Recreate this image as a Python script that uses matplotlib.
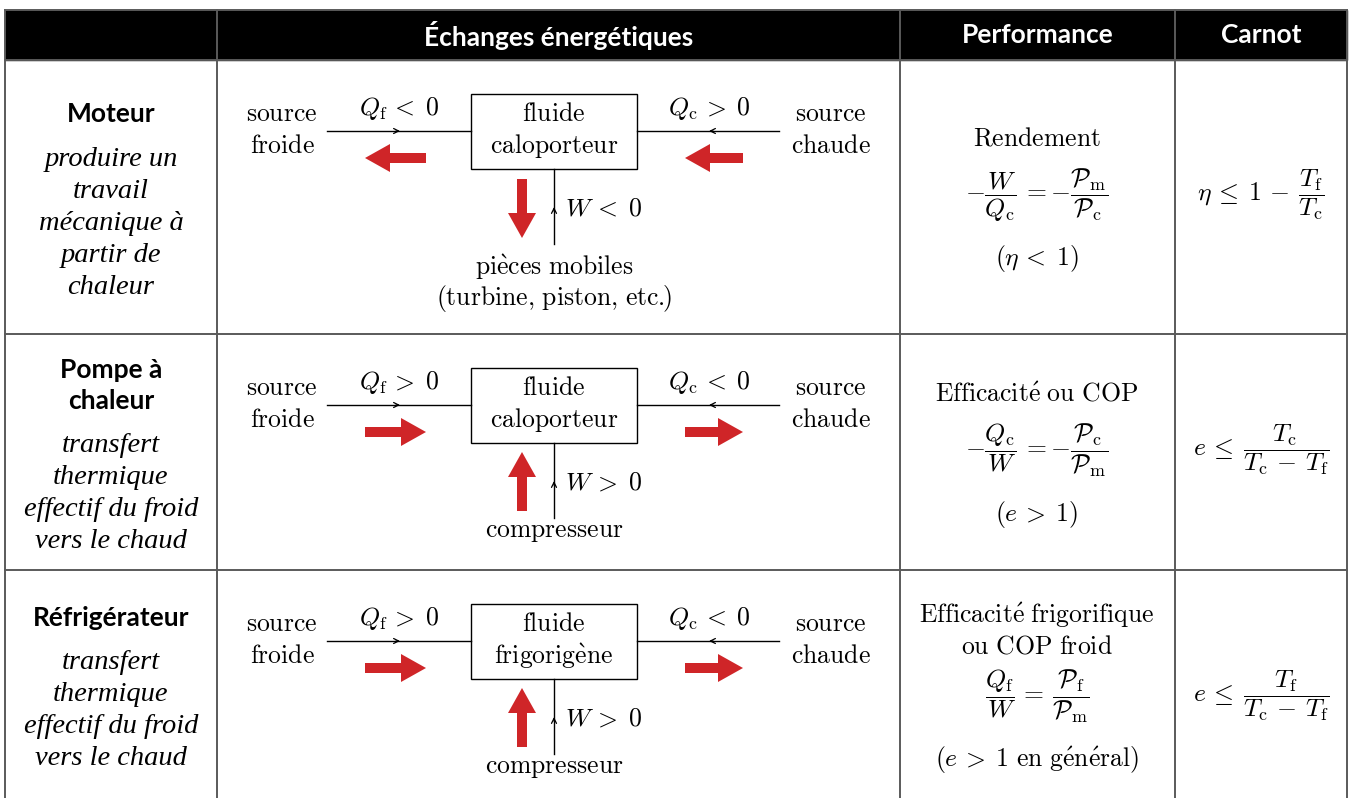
import matplotlib
matplotlib.use("Agg")
import matplotlib.pyplot as plt
from matplotlib.patches import Rectangle, FancyArrow

plt.rcParams['mathtext.fontset'] = 'cm'

# --- contenu du tableau ---
headers = ['', 'Échanges énergétiques', 'Performance', 'Carnot']
row_titles = [['Moteur'], ['Pompe à', 'chaleur'], ['Réfrigérateur']]
row_descs = [['produire un', 'travail', 'mécanique à', 'partir de', 'chaleur'],
             ['transfert', 'thermique', 'effectif du froid', 'vers le chaud'],
             ['transfert', 'thermique', 'effectif du froid', 'vers le chaud']]
fluid_names = [['fluide', 'caloporteur'], ['fluide', 'caloporteur'], ['fluide', 'frigorigène']]
work_parts = [['pièces mobiles', r'(turbine{,} piston{,} etc{.}\!\!)'], ['compresseur'], ['compresseur']]
qf_sign = [-1, 1, 1]
qc_sign = [1, -1, -1]
w_sign = [-1, 1, 1]
perf_names = [['Rendement'], ['Efficacité ou COP'], ['Efficacité frigorifique', 'ou COP froid']]
perf_formulas = [r'$-\dfrac{W}{Q_\mathrm{c}}\,=-\dfrac{\mathcal{P}_\mathrm{m}}{\mathcal{P}_\mathrm{c}}$',
                 r'$-\dfrac{Q_\mathrm{c}}{W}\,=-\dfrac{\mathcal{P}_\mathrm{c}}{\mathcal{P}_\mathrm{m}}$',
                 r'$\dfrac{Q_\mathrm{f}}{W}\,=\,\dfrac{\mathcal{P}_\mathrm{f}}{\mathcal{P}_\mathrm{m}}$']
perf_notes = [r'$(\eta\,<\;1)$', r'$(e\,>\;1)$', r'$(e\,>\;1\ \mathrm{en\ g\acute{e}n\acute{e}ral})$']
carnot = [r'$\eta\,\leq\;1\,-\,\dfrac{T_\mathrm{f}}{T_\mathrm{c}}$',
          r'$e\,\leq\;\dfrac{T_\mathrm{c}}{T_\mathrm{c}\,-\,T_\mathrm{f}}$',
          r'$e\,\leq\;\dfrac{T_\mathrm{f}}{T_\mathrm{c}\,-\,T_\mathrm{f}}$']

RED = '#cf2528'
GRID = '#5a5a5a'
FS = 18.5


def tex(s):
    s = (s.replace(' ', r'\ ').replace('é', r'\acute{e}')
         .replace('è', r'\grave{e}').replace('à', r'\grave{a}'))
    return r'$\mathrm{%s}$' % s


def rel(v):
    return r'\,' + ('>' if v > 0 else '<') + r'\;'


fig = plt.figure(figsize=(13.5, 7.98), dpi=100)
ax = fig.add_axes([0, 0, 1, 1])
ax.set_xlim(0, 1350)
ax.set_ylim(798, 0)
ax.axis('off')

col_x = [5, 217, 900, 1175, 1347]
row_y = [60, 334, 570, 798]

# en-tete noir
ax.add_patch(Rectangle((col_x[0], 10), col_x[-1] - col_x[0], 50, color='black', zorder=1))
for i, h in enumerate(headers):
    ax.text((col_x[i] + col_x[i + 1]) / 2, 35, h, color='white', family='Lato',
            weight='bold', fontsize=19, ha='center', va='center', zorder=3)

# grille
for x in col_x:
    ax.plot([x, x], [10, 798], color=GRID, lw=1.4, zorder=2)
for y in [10, 60] + row_y[1:3]:
    ax.plot([col_x[0], col_x[-1]], [y, y], color=GRID, lw=1.4, zorder=2)


def small_arrow(x, y, dx, dy):
    ax.annotate('', xy=(x + dx, y + dy), xytext=(x - dx, y - dy),
                arrowprops=dict(arrowstyle='->', lw=0.9, color='black',
                                mutation_scale=9, shrinkA=0, shrinkB=0))


def red_arrow(x0, y0, x1, y1):
    ax.add_patch(FancyArrow(x0, y0, x1 - x0, y1 - y0, width=10, head_width=28,
                            head_length=25, length_includes_head=True,
                            color=RED, lw=0, zorder=4))


for r in range(3):
    top, bot = row_y[r], row_y[r + 1]
    mid = (top + bot) / 2

    # colonne de gauche
    nt, nd = len(row_titles[r]), len(row_descs[r])
    gap = 45
    span = 31 * (nt - 1) + gap + 32 * (nd - 1)
    y0 = mid - span / 2 + 4
    for i, t in enumerate(row_titles[r]):
        ax.text(111, y0 + 31 * i, t, family='Lato', weight='bold', fontsize=19,
                ha='center', va='center')
    yd = y0 + 31 * (nt - 1) + gap
    for j, d in enumerate(row_descs[r]):
        ax.text(111, yd + 32 * j, d, family='Liberation Serif', style='italic',
                fontsize=20.5, ha='center', va='center')

    # schema
    b = top + 34
    ax.add_patch(Rectangle((471, b), 166, 75, fill=False, ec='black', lw=1.0, zorder=3))
    for k, t in enumerate(fluid_names[r]):
        ax.text(554, b + 20 + 32 * k, tex(t), fontsize=FS, ha='center', va='center')
    ax.text(282, b + 20, tex('source'), fontsize=FS, ha='center', va='center')
    ax.text(282, b + 52, tex('froide'), fontsize=FS, ha='center', va='center')
    ax.text(831, b + 20, tex('source'), fontsize=FS, ha='center', va='center')
    ax.text(831, b + 52, tex('chaude'), fontsize=FS, ha='center', va='center')

    yl = b + 37
    ax.plot([327, 471], [yl, yl], color='black', lw=1.0)
    ax.plot([637, 779], [yl, yl], color='black', lw=1.0)
    small_arrow(398, yl, 2, 0)
    small_arrow(711, yl, -2, 0)
    ax.text(399, b + 15, r'$Q_\mathrm{f}%s0$' % rel(qf_sign[r]), fontsize=FS,
            ha='center', va='center')
    ax.text(709, b + 15, r'$Q_\mathrm{c}%s0$' % rel(qc_sign[r]), fontsize=FS,
            ha='center', va='center')

    ya = b + 64
    if qf_sign[r] > 0:
        red_arrow(365, ya, 426, ya)
    else:
        red_arrow(426, ya, 365, ya)
    if qc_sign[r] > 0:
        red_arrow(743, ya, 685, ya)
    else:
        red_arrow(685, ya, 743, ya)

    ax.plot([554, 554], [b + 75, b + 150], color='black', lw=1.0)
    small_arrow(554, b + 115, 0, -2)
    ax.text(565, b + 115, r'$W%s0$' % rel(w_sign[r]), fontsize=FS,
            ha='left', va='center')
    if w_sign[r] > 0:
        red_arrow(522, b + 143, 522, b + 84)
    else:
        red_arrow(522, b + 85, 522, b + 144)
    yw = b + 173 if len(work_parts[r]) > 1 else b + 163
    for k, t in enumerate(work_parts[r]):
        ax.text(554, yw + 32 * k, tex(t), fontsize=FS, ha='center', va='center')

    # performance
    nn = len(perf_names[r])
    yf = mid + 14 * (nn - 1) - 2
    for k, t in enumerate(perf_names[r]):
        ax.text(1037, yf - (56 - 7 * (nn - 1)) - 32 * (nn - 1 - k), tex(t), fontsize=FS,
                ha='center', va='center')
    ax.text(1037, yf, perf_formulas[r], fontsize=FS, ha='center', va='center')
    ax.text(1037, yf + 64, perf_notes[r], fontsize=FS, ha='center', va='center')

    # Carnot
    ax.text(1261, yf, carnot[r], fontsize=FS, ha='center', va='center')

fig.savefig('out.png', dpi=100)
